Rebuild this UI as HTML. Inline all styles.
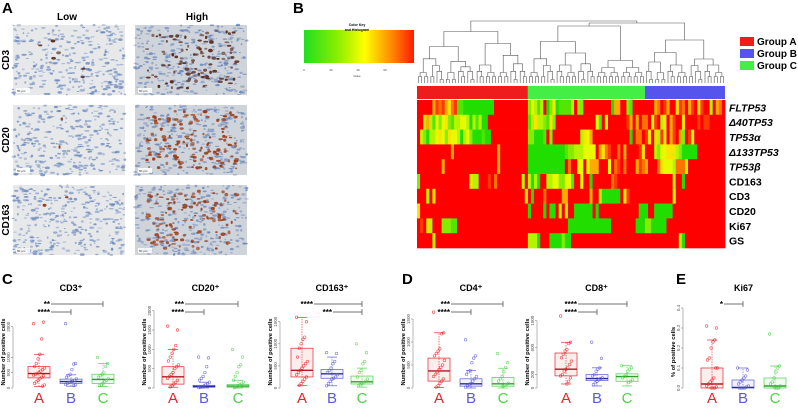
<!DOCTYPE html>
<html><head><meta charset="utf-8"><style>
html,body{margin:0;padding:0;background:#fff}
svg{display:block;font-family:"Liberation Sans",sans-serif}
</style></head><body>
<svg id="fig" width="798" height="412" viewBox="0 0 798 412">
<defs>
<linearGradient id="ckey" x1="0" x2="1"><stop offset="0" stop-color="#22dd22"/><stop offset="0.3" stop-color="#88ee00"/><stop offset="0.55" stop-color="#ffff00"/><stop offset="0.8" stop-color="#ff8800"/><stop offset="1" stop-color="#ff1a00"/></linearGradient>
</defs>
<g id="panelA">
<text x="2" y="13" font-size="15" font-weight="bold">A</text>
<text x="67" y="20" font-size="10" font-weight="bold" text-anchor="middle">Low</text>
<text x="197" y="20" font-size="10" font-weight="bold" text-anchor="middle">High</text>
<text transform="translate(9,60) rotate(-90)" font-size="10" font-weight="bold" text-anchor="middle">CD3</text>
<text transform="translate(9,140) rotate(-90)" font-size="10" font-weight="bold" text-anchor="middle">CD20</text>
<text transform="translate(9,220) rotate(-90)" font-size="10" font-weight="bold" text-anchor="middle">CD163</text>
</g>
<g id="panelB">
<text x="293" y="13" font-size="15" font-weight="bold">B</text>
<rect x="304" y="30" width="110" height="33" fill="url(#ckey)"/>
<text x="357" y="26" font-size="3.5" font-weight="bold" text-anchor="middle">Color Key</text>
<text x="357" y="31" font-size="3.5" font-weight="bold" text-anchor="middle">and Histogram</text>
<g font-size="3" fill="#444">
<text x="304" y="71" text-anchor="middle">0</text><text x="331" y="71" text-anchor="middle">20</text><text x="358" y="71" text-anchor="middle">40</text><text x="385" y="71" text-anchor="middle">60</text>
<text x="357" y="77" text-anchor="middle">Value</text></g>
<g id="dendro"></g>
<g id="heat"></g>
<g id="legend"></g>
</g>
<g id="bottom">
<text x="2" y="284" font-size="15" font-weight="bold">C</text>
<text x="402" y="284" font-size="15" font-weight="bold">D</text>
<text x="676" y="284" font-size="15" font-weight="bold">E</text>
</g>
</svg>
<script>
const NS='http://www.w3.org/2000/svg';
function mk(tag,attrs,parent){const e=document.createElementNS(NS,tag);for(const k in attrs)e.setAttribute(k,attrs[k]);parent.appendChild(e);return e;}

// ---------- Panel A photos (decorative texture) ----------
let seed=7;function rnd(){seed=(seed*16807)%2147483647;return seed/2147483647;}
const photoCols=[13,135], photoRows=[25,105,185];
const photoStain=[[0.05,0.9],[0.02,1.3],[0.02,1.1]];
const pA=document.getElementById('panelA');
photoRows.forEach((py,r)=>photoCols.forEach((px,c)=>{
  const g=mk('g',{},pA);
  
  
  mk('rect',{x:px,y:py,width:112,height:70,fill:c?'#cfd3da':'#e6e8ea'},g);
  for(let i=0;i<320;i++){mk('ellipse',{cx:px+rnd()*112,cy:py+rnd()*70,rx:0.8+rnd()*1.8,ry:0.5+rnd()*0.9,fill:'#5f7fb8',opacity:0.35+rnd()*0.4},g);}
  const n=Math.round(photoStain[r][c]*110);
  for(let i=0;i<n;i++){const cx=px+12+rnd()*90,cy=py+6+rnd()*58;mk('ellipse',{cx:cx,cy:cy,rx:1+rnd()*1.6,ry:0.8+rnd()*1,fill:r==0?'#5a2e22':'#9a3e1a',opacity:0.6+rnd()*0.4},g);}
  mk('rect',{x:px+3,y:py+63,width:14,height:5,fill:'#fff',opacity:0.8},g);
  mk('text',{x:px+4,y:py+67,'font-size':3,fill:'#333'},g).textContent='50 µm';
}));

// ---------- Heatmap data ----------
const groupSizes=[36,38,26];
const groupNames=['Group A','Group C','Group B'];
const groupColors=['#ee1c1c','#44ee44','#5555ee'];
const rowLabels=['FLTP53','Δ40TP53','TP53α','Δ133TP53','TP53β','CD163','CD3','CD20','Ki67','GS'];
const rowItalic=[1,1,1,1,1,0,0,0,0,0];
const heatRows=[
 '999996878657811000000000099999999999243139025011113922999999999066992199999996798699587968958993967999',
 '993631424521334430313009999999999999135332152999999999999941949999998696977948935968995999989889999',
 '932033454254430342000100999999999999220001929999999993546999999999999097798595385968962984999999',
 '999999999996999999999999996999999999000000000000122333444496578997969999859993244555320000099999',
 '999999996999999999999999996999999999000000000000979944946669994978979996876999754443777399999',
 '299999999999999995339998979999999939303099334422441994990999999789999999999999999993990999999',
 '999395999999999999999999999999999995909997999996699999996993000000958999999999999994999999999',
 '599999999999999999999999999999999999099990900939399000000909999999999999000990000009999999999',
 '989539992221199999999999999999999999999999999999900000000000000999999990002200000999999999999',
 '999993999999999999999999999999999999333099900002009999999999999999999999999999999999930999999'
];
function heatColor(ch){const v=+ch/9;let r,g,b=0;
  if(v<0.5){r=Math.round(34+(255-34)*v*2);g=Math.round(221+(255-221)*v*2);}
  else{r=255;g=Math.round(255*(1-(v-0.5)*2));}
  return 'rgb('+r+','+g+','+b+')';}
const HX=417,HW=308,HY=100,HH=148;
const nCols=groupSizes.reduce((a,b)=>a+b,0);
const cw=HW/nCols, rh=HH/heatRows.length;
const heat=document.getElementById('heat');
heatRows.forEach((row,ri)=>{
  for(let ci=0;ci<nCols;ci++){
    const ch=row[Math.min(ci,row.length-1)];
    const c=mk('rect',{x:(HX+ci*cw).toFixed(2),y:(HY+ri*rh).toFixed(2),width:(cw+0.4).toFixed(2),height:(rh+0.3).toFixed(2),fill:heatColor(ch)},heat);
    
    
  }
  const t=mk('text',{x:729,y:(HY+ri*rh+rh/2+4).toFixed(1),'font-size':10.5,'font-weight':'bold','font-style':rowItalic[ri]?'italic':'normal'},heat);
  t.textContent=rowLabels[ri];
  
  
});
let acc=0;
groupSizes.forEach((n,gi)=>{
  const r=mk('rect',{x:(HX+acc*cw).toFixed(2),y:86,width:(n*cw).toFixed(2),height:13,fill:groupColors[gi]},heat);
  
  
  acc+=n;
});
const leg=document.getElementById('legend');
['Group A','Group B','Group C'].forEach((nm,i)=>{
  const r=mk('rect',{x:740,y:37+i*12,width:14,height:9,fill:['#ee1c1c','#5555ee','#44ee44'][i]},leg);
  
  
  const t=mk('text',{x:757,y:45+i*12,'font-size':10,'font-weight':'bold'},leg);
  t.textContent=nm;
  
  
});
// dendrogram (structural)
const den=document.getElementById('dendro');
function build(a,b){
  const yb=83;
  if(b-a===1){return [HX+(a+0.5)*cw,yb];}
  let m=Math.floor((a+b)/2 + ((a*7+b*3)%5-2)*0.3*(b-a)/6); if(m<=a)m=a+1; if(m>=b)m=b-1;
  const L=build(a,m),R=build(m,b);
  const h=Math.min(L[1],R[1])-(3+(b-a)*0.25+((a+b)%4)*1.5);
  const top=Math.max(24,h);
  mk('path',{d:`M${L[0].toFixed(1)},${L[1]}V${top.toFixed(1)}H${R[0].toFixed(1)}V${R[1]}`,fill:'none',stroke:'#555','stroke-width':0.6},den);
  return [(L[0]+R[0])/2,top];
}
let da=0;const gx=[];
groupSizes.forEach(n=>{gx.push(build(da,da+n));da+=n;});
const top1=Math.min(gx[1][1],gx[2][1])-3;
mk('path',{d:`M${gx[1][0]},${gx[1][1]}V${top1}H${gx[2][0]}V${gx[2][1]}`,fill:'none',stroke:'#555','stroke-width':0.6},den);
mk('path',{d:`M${gx[0][0]},${gx[0][1]}V21H${(gx[1][0]+gx[2][0])/2}V${top1}`,fill:'none',stroke:'#555','stroke-width':0.6},den);

// ---------- Box plot data ----------
const plotTitles=['CD3⁺','CD20⁺','CD163⁺','CD4⁺','CD8⁺','Ki67'];
const plotYLabels=['Number of positive cells','Number of positive cells','Number of positive cells','Number of positive cells','Number of positive cells','% of positive cells'];
const plotTicks=[[0,500,1000,2000],[0,500,1000,1500,2000],[0,500,1000,1500],[0,500,1000,1500],[0,200,600,1000],[0,0.1,0.2,0.3,0.4]];
const plotTickLabels=[['0','500','1000','2000'],['0','500','1000','1500','2000'],['0','500','1000','1500'],['0','500','1000','1500'],['0','200','600','1000'],['0.0','0.1','0.2','0.3','0.4']];
const plotRefVal=[2000,2000,1500,1500,1000,0.4];
const boxStats=[
 [[50,330,470,700,1100],[60,150,210,290,430],[50,150,280,450,800]],
 [[20,100,290,550,1000],[0,20,40,70,150],[0,20,50,90,200]],
 [[60,250,400,900,1600],[50,220,320,420,700],[20,90,140,270,450]],
 [[10,150,370,650,1200],[0,40,90,200,380],[0,40,90,230,430]],
 [[60,180,280,520,680],[30,110,140,200,300],[30,100,170,210,330]],
 [[0,0,0.02,0.1,0.24],[0,0,0.003,0.04,0.1],[0,0,0.01,0.05,0.11]]
];
const points=[
 [[2100,2150,1600,1100,950,800,700,650,600,550,500,480,450,420,400,350,300,250,200,150,100,60],[2100,800,780,600,450,400,350,300,250,220,200,180,150,120,100,80],[1000,800,700,500,450,400,350,300,250,200,150,100,80]],
 [[1600,1500,1100,1000,900,800,700,600,550,500,400,350,300,250,200,150,100,50,30],[800,780,550,400,300,250,200,150,100,80,50,30,20,10],[1000,800,600,550,400,300,200,150,100,80,50,30,10]],
 [[1600,1500,1150,1100,1000,900,700,600,550,500,450,400,350,300,250,200,150,100,60],[800,780,600,550,450,400,350,300,250,220,200,150,100,50],[1000,800,600,550,400,350,250,200,150,120,100,80,50]],
 [[1650,1200,1180,850,800,750,700,600,500,450,400,350,300,250,200,150,100,50,20],[1050,700,650,550,380,350,300,250,200,150,100,80,50,20],[750,550,450,350,250,200,150,100,80,60,40]],
 [[1070,680,660,570,550,500,450,400,350,300,280,250,200,180,150,100,60],[680,440,300,280,250,200,180,150,140,120,100,80,50],[330,300,280,250,200,170,150,120,100,80]],
 [[0.31,0.30,0.24,0.23,0.2,0.15,0.14,0.1,0.1,0.05,0.04,0.03,0.02,0.01,0.005,0,0,0],[0.1,0.09,0.06,0.05,0.04,0.03,0.02,0.01,0.005,0,0,0,0],[0.27,0.11,0.1,0.08,0.05,0.03,0.02,0.01,0,0,0]]
];
const sigBars=[
 [[0,2,0,'**'],[0,1,1,'****']],
 [[0,2,0,'***'],[0,1,1,'****']],
 [[0,2,0,'****'],[1,2,1,'***']],
 [[0,2,0,'***'],[0,1,1,'****']],
 [[0,2,0,'****'],[0,1,1,'****']],
 [[0,1,0,'*']]
];
const axisX=[13,154,280,413,537,683];
const groupX=[[39,71,103],[173,204,238],[302,332,362],[439,471,503],[566,597,627],[712,743,775]];
const refY=[326.7,310.7,321.7,319,320.7,308];
const Y0=388;
const gCol=['#e3262b','#5b5bd6','#4fcf4f'];
const gFill=['rgba(227,38,43,0.08)','rgba(91,91,214,0.08)','rgba(79,207,79,0.08)'];
const bottom=document.getElementById('bottom');
plotTitles.forEach((title,p)=>{
  const g=mk('g',{},bottom);
  
  
  const y=v=>Y0-(v/plotRefVal[p])*(Y0-refY[p]);
  const ax=axisX[p];
  const tx=(groupX[p][0]+groupX[p][2])/2;
  const tt=mk('text',{x:tx,y:291,'font-size':9,'font-weight':'bold','text-anchor':'middle'},g);
  tt.textContent=title;
  
  
  const yl=mk('text',{transform:`translate(${ax-8},352) rotate(-90)`,'font-size':5.8,'font-weight':'bold','text-anchor':'middle'},g);
  yl.textContent=plotYLabels[p];
  
  
  const tmin=plotTicks[p][0],tmax=plotTicks[p][plotTicks[p].length-1];
  mk('line',{x1:ax,x2:ax,y1:y(tmin),y2:y(tmax),stroke:'#888','stroke-width':0.6},g);
  plotTicks[p].forEach((tv,ti)=>{
    mk('line',{x1:ax-2,x2:ax,y1:y(tv),y2:y(tv),stroke:'#888','stroke-width':0.6},g);
    const t=mk('text',{transform:`translate(${ax-3},${y(tv)}) rotate(-90)`,'font-size':4.5,fill:'#555','text-anchor':'middle'},g);
    t.textContent=plotTickLabels[p][ti];
    
    
  });
  boxStats[p].forEach((s,gi)=>{
    const cx=groupX[p][gi],w=11,col=gCol[gi];
    const bg=mk('g',{},g);
    
    
    mk('line',{x1:cx,x2:cx,y1:y(s[0]),y2:y(s[4]),stroke:col,'stroke-width':0.6,'stroke-dasharray':'1.5,1'},bg);
    mk('line',{x1:cx-5,x2:cx+5,y1:y(s[0]),y2:y(s[0]),stroke:col,'stroke-width':0.7},bg);
    mk('line',{x1:cx-5,x2:cx+5,y1:y(s[4]),y2:y(s[4]),stroke:col,'stroke-width':0.7},bg);
    mk('rect',{x:cx-w,y:y(s[3]),width:2*w,height:Math.max(0.5,y(s[1])-y(s[3])),fill:gFill[gi],stroke:col,'stroke-width':0.7},bg);
    mk('line',{x1:cx-w,x2:cx+w,y1:y(s[2]),y2:y(s[2]),stroke:gi==0?'#b01820':gi==1?'#2a2aa0':'#2aa02a','stroke-width':1.4},bg);
    points[p][gi].forEach((v,k)=>{
      const c=mk('circle',{cx:cx+((k*37)%13-6)*0.9,cy:y(v),r:1.3,fill:'none',stroke:col,'stroke-width':0.6,opacity:0.8},bg);
      
      
    });
    const lt=mk('text',{x:cx,y:403,'font-size':15,fill:col,'text-anchor':'middle'},g);
    lt.textContent='ABC'[gi];
    
    
  });
  sigBars[p].forEach(sb=>{
    const yy=304+sb[2]*8;
    const x1=groupX[p][sb[0]]+(sb[0]==0?12:1), x2=groupX[p][sb[1]];
    mk('line',{x1:x1,x2:x2,y1:yy,y2:yy,stroke:'#444','stroke-width':0.7},g);
    mk('line',{x1:x2,x2:x2,y1:yy-3,y2:yy+3,stroke:'#444','stroke-width':0.7},g);
    const st=mk('text',{x:x1-1,y:yy+3,'font-size':8,'font-weight':'bold','text-anchor':'end'},g);
    st.textContent=sb[3];
    
    
  });
});
</script>
</body></html>
